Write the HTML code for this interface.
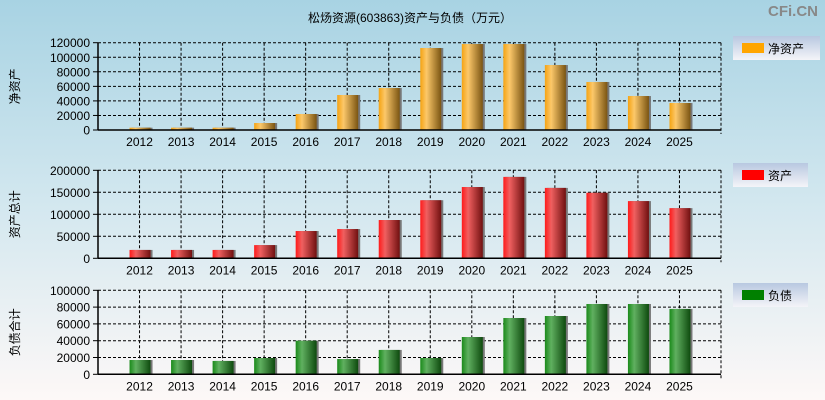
<!DOCTYPE html>
<html><head><meta charset="utf-8">
<style>
body{margin:0;width:825px;height:400px;overflow:hidden;}
svg{display:block;}
text{font-family:"Liberation Sans","Noto Sans CJK SC",sans-serif;}
</style></head>
<body>
<svg id="chart" width="825" height="400" xmlns="http://www.w3.org/2000/svg">
<defs>
<linearGradient id="bg" x1="0" y1="0" x2="0" y2="1">
<stop offset="0" stop-color="#a8d3e3"/><stop offset="0.5" stop-color="#d2e7ef"/><stop offset="1" stop-color="#fdf8f7"/>
</linearGradient>
<linearGradient id="gOr" x1="0" y1="0" x2="1" y2="0">
<stop offset="0" stop-color="#f5a312"/><stop offset="0.3" stop-color="#fcc86a"/><stop offset="1" stop-color="#7a5412"/>
</linearGradient>
<linearGradient id="gRd" x1="0" y1="0" x2="1" y2="0">
<stop offset="0" stop-color="#ff1a1a"/><stop offset="0.3" stop-color="#f06060"/><stop offset="1" stop-color="#701010"/>
</linearGradient>
<linearGradient id="gGr" x1="0" y1="0" x2="1" y2="0">
<stop offset="0" stop-color="#1a8a1a"/><stop offset="0.3" stop-color="#60b060"/><stop offset="1" stop-color="#0e4a0e"/>
</linearGradient>
<linearGradient id="lg" x1="0" y1="0" x2="0" y2="1">
<stop offset="0" stop-color="#b8c8e0"/><stop offset="1" stop-color="#f4f4f8"/>
</linearGradient>
</defs>
<rect width="825" height="400" fill="url(#bg)"/>
<text x="410" y="22" font-size="12" text-anchor="middle" fill="#000">松炀资源(603863)资产与负债（万元）</text>
<text x="818" y="16" font-size="15" font-weight="bold" text-anchor="end" fill="#888">CFi.CN</text>
</svg>
<script>
const years=['2012','2013','2014','2015','2016','2017','2018','2019','2020','2021','2022','2023','2024','2025'];
const netAssets=[3200,3200,3200,9600,22000,48100,57700,112700,118200,118200,89300,66000,46700,37100];
const totalAssets=[19000,19000,19000,30000,62000,66500,87000,132000,162000,185000,160000,149000,130000,114000];
const liabilities=[17000,17000,15900,19400,40000,18200,29000,19400,44400,67000,69400,83700,83700,77800];
const ticks1=[0,20000,40000,60000,80000,100000,120000];
const ticks2=[0,50000,100000,150000,200000];
const ticks3=[0,20000,40000,60000,80000,100000];

const svg=document.getElementById('chart');
const NS='http://www.w3.org/2000/svg';
function mk(tag,attrs,parent){const e=document.createElementNS(NS,tag);for(const k in attrs)e.setAttribute(k,attrs[k]);(parent||svg).appendChild(e);return e;}
const X0=98,X1=721,slots=15;
function xPos(i){return X0+(i+1)*(X1-X0)/slots;}

function panel(key,top,bottom,maxV,ticks,vals,grad,yTitle,legName,legColor,legY,legW){
  const g=mk('g',{});
  
  
  const y=v=>bottom-(v/maxV)*(bottom-top);
  // grid
  ticks.forEach(t=>{
    if(t===0)return;
    const l=mk('line',{x1:X0,x2:X1,y1:y(t),y2:y(t),stroke:'#000','stroke-dasharray':'3,2','stroke-width':1},g);
    
    
  });
  for(let i=0;i<years.length;i++){
    const l=mk('line',{x1:xPos(i),x2:xPos(i),y1:top,y2:bottom,stroke:'#000','stroke-dasharray':'3,2'},g);
    
    
  }
  const rl=mk('line',{x1:X1,x2:X1,y1:top,y2:bottom+4,stroke:'#000','stroke-dasharray':'3,2'},g);
  
  
  // bars
  vals.forEach((v,i)=>{
    const cx=xPos(i);
    const sh=mk('rect',{x:cx-10+2,y:y(v),width:21,height:bottom-y(v),fill:'#777'},g);
    
    
    const b=mk('rect',{x:cx-10,y:y(v),width:21,height:bottom-y(v),fill:'url(#'+grad+')'},g);
    
    
  });
  // axes
  const ay=mk('line',{x1:X0,x2:X0,y1:top,y2:bottom,stroke:'#000','stroke-width':1.5},g);
  
  
  const ax=mk('line',{x1:X0,x2:X1,y1:bottom,y2:bottom,stroke:'#000','stroke-width':1.5},g);
  
  
  ticks.forEach(t=>{
    mk('line',{x1:X0-5,x2:X0,y1:y(t),y2:y(t),stroke:'#000'},g);
    const tx=mk('text',{x:X0-8,y:y(t)+4.5,'font-size':12,'text-anchor':'end',fill:'#000'},g);
    tx.textContent=t;
    
    
  });
  years.forEach((yr,i)=>{
    const tx=mk('text',{x:xPos(i),y:bottom+16,'font-size':12,'text-anchor':'middle',fill:'#000'},g);
    tx.textContent=yr;
    
    
  });
  const yt=mk('text',{x:0,y:0,'font-size':12,'text-anchor':'middle',fill:'#000',transform:'translate(19,'+((top+bottom)/2)+') rotate(-90)'},g);
  yt.textContent=yTitle;
  
  
  // legend
  const lg=mk('g',{},g);
  
  
  mk('rect',{x:733,y:legY,width:legW,height:24,fill:'url(#lg)'},lg);
  mk('rect',{x:742,y:legY+7,width:22,height:10,fill:legColor},lg);
  const lt=mk('text',{x:768,y:legY+17,'font-size':12,fill:'#000'},lg);
  lt.textContent=legName;
  
  
}
panel('net-assets',42.7,130,120000,ticks1,netAssets,'gOr','净资产','净资产','#ffa500',36,87);
panel('total-assets',170.3,258.3,200000,ticks2,totalAssets,'gRd','资产总计','资产','#ff0000',163,75);
panel('liabilities',290.3,374.3,100000,ticks3,liabilities,'gGr','负债合计','负债','#008000',283,75);
</script>
</body></html>
